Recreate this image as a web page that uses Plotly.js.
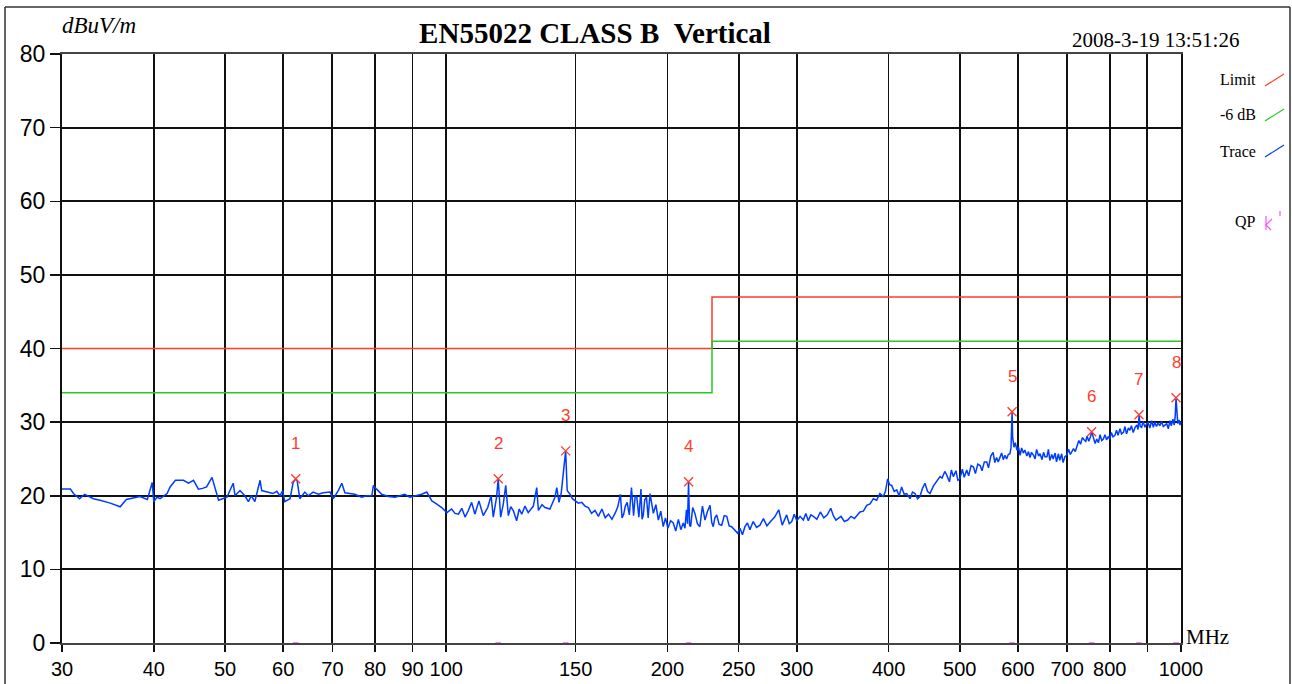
<!DOCTYPE html>
<html>
<head>
<meta charset="utf-8">
<script src="https://cdn.plot.ly/plotly-3.0.1.min.js"></script>
<style>
html,body{margin:0;padding:0;background:#fff;}
#chart{width:1292px;height:684px;}
</style>
</head>
<body>
<div id="chart"></div>
<script>
// ---- data ----
const traceFreq = [
30, 30.8, 31.1, 31.7, 32.2, 33.1, 33.8, 34.9, 36.0, 36.7, 37.5, 38.3, 39.2, 39.6, 39.8, 40.0, 40.4, 40.8, 41.7, 42.1, 42.8, 43.9, 44.6, 45.3, 46.0, 46.6, 47.2, 48.0, 48.5, 49.0, 49.6, 50.3, 51.3, 51.6, 52.4, 53.2, 53.8, 54.3, 54.9, 55.8, 56.1, 57.0, 58.1, 58.8, 59.4, 59.9, 60.3, 61.3, 61.9, 62.4, 62.7, 63.2, 64.2, 64.9, 65.9, 67.0, 68.0, 69.5, 70.2, 71.3, 72.1, 72.8, 74.0,
75.1, 76.7, 78.0, 79.2, 79.6, 80.4, 81.7, 83.4, 85.2, 86.5, 87.8, 89.2, 90.7, 92.6, 94.1, 95.6, 97.0, 98.6, 100.2, 101.7, 102.8, 103.9, 105.0, 106.1, 107.2, 108.3, 109.4, 110.8, 112.3, 113.9, 115.1, 115.9, 117.1, 117.7, 118.6, 119.6, 120.5, 121.5, 122.4, 123.4, 124.7, 125.7, 126.7, 128.0, 129.3, 131.4, 132.8, 133.5, 135.0, 136.3, 138.4, 140.6, 141.4, 142.4, 143.4, 144.3, 145.4, 146.1, 147.4, 148.5, 149.7, 151.3, 152.9, 154.5, 156.1, 157.7, 159.4, 161.1, 162.9, 164.6, 166.3, 168.1, 169.9, 171.2, 172.6, 173.5, 174.4, 175.3, 176.3, 177.5, 178.7, 179.3, 179.9, 180.8, 181.7, 182.9, 184.1, 184.7, 185.4, 186.3, 187.3, 188.3, 189.4,
191.4, 192.9, 194.4, 195.9, 197.4, 198.8, 200.3, 202.0, 203.7, 205.3, 207.0, 208.6, 210.2, 211.3, 212.3, 213.0, 213.7, 214.4, 215.1, 216.5, 218.0, 219.7, 221.4, 223.2, 225.0, 226.8, 228.6, 229.8, 230.9, 232.1, 233.4, 235.2, 237.1, 239.0, 240.9, 242.7, 244.6, 247.0, 249.3, 251.1, 253.0, 255.0, 257.0, 259.0, 261.7, 264.5, 267.3, 270.2, 273.2, 276.3, 279.9, 283.5, 286.6, 290.6, 293.0, 295.3, 297.6, 300.0, 303.1, 306.2, 308.6, 311.0, 313.5, 316.0, 319.5, 323.0, 326.5, 330.1, 333.7, 336.4, 339.1, 344.6, 348.2, 351.9, 355.6, 359.4, 362.5, 365.7, 369.6, 373.5, 377.4, 381.3, 385.3, 389.3, 393.4, 396.1, 398.8, 401.3, 403.9, 407.1, 410.3, 413.5, 416.7, 420.0, 423.3, 427.8, 431.1, 434.5, 437.9, 441.3, 444.8, 448.3, 451.8, 455.4, 460.2, 465.1, 470.0,
473, 477, 480, 484, 487, 490, 494, 497, 500, 504, 507, 511, 514, 518, 522, 525, 529, 533, 536, 540, 544, 547, 551, 555, 558, 561, 564, 567, 570, 573, 576, 579, 582, 585, 587, 589, 590, 592.5, 595, 598, 601, 604, 607, 610, 613, 617, 620, 623, 626, 630, 633, 636, 640, 643, 647, 650, 653, 657, 660, 663, 667, 670, 674, 677, 681, 684, 688, 691, 695, 699, 703, 707, 710, 714, 718, 722, 726, 730, 734, 738, 742, 745, 749, 753, 756, 760, 764, 768, 772, 776, 780, 784, 788, 792, 796, 800, 804, 808, 813, 817, 821, 826, 830, 835, 839, 843, 848, 852, 856, 861, 866, 871, 874, 877, 880, 884, 888, 893, 898, 902, 907, 912, 917, 921, 926, 931, 936, 941, 946, 951, 956, 961, 966, 970, 975, 979, 982, 984.5, 987, 990, 994, 997, 1000
];
const traceLevel = [
20.9, 20.9, 20.3, 19.6, 20.2, 19.6, 19.4, 19.0, 18.5, 19.5, 19.7, 19.9, 19.5, 21.2, 21.8, 19.2, 19.8, 19.6, 20.3, 21.2, 22.1, 22.1, 21.7, 22.1, 20.9, 21.0, 21.2, 22.5, 20.8, 19.4, 19.6, 19.8, 21.7, 20.0, 20.7, 20.0, 19.2, 20.0, 19.2, 22.1, 20.7, 20.5, 20.3, 20.6, 20.0, 20.7, 19.2, 19.6, 21.8, 22.3, 22.0, 19.6, 20.5, 20.0, 20.5, 20.2, 20.4, 20.5, 19.6, 20.7, 21.7, 20.4, 20.3,
20.2, 19.8, 20.0, 20.0, 21.4, 20.9, 20.2, 19.9, 19.8, 20.0, 20.2, 19.8, 20.0, 20.2, 20.5, 19.3, 18.9, 18.4, 17.7, 18.2, 17.6, 17.5, 18.3, 17.1, 18.0, 19.1, 17.5, 19.3, 17.3, 18.4, 20.0, 17.1, 19.8, 22.3, 17.1, 18.9, 21.4, 17.3, 18.5, 18.0, 16.6, 18.2, 17.5, 18.6, 17.7, 18.6, 21.1, 18.0, 18.8, 18.4, 18.2, 19.8, 21.1, 19.1, 20.4, 22.9, 26.1, 20.7, 20.2, 19.6, 19.3, 19.0, 19.1, 18.6, 18.4, 17.6, 18.0, 17.2, 18.2, 17.0, 17.5, 16.8, 17.7, 18.5, 20.2, 17.0, 17.5, 18.6, 19.1, 17.4, 21.1, 18.2, 17.3, 20.0, 19.8, 17.1, 20.9, 16.8, 17.3, 19.5, 19.8, 17.0, 20.3,
17.6, 18.8, 16.7, 17.9, 15.8, 17.0, 15.6, 16.6, 16.3, 15.2, 16.8, 15.4, 16.3, 15.6, 18.1, 16.2, 21.9, 16.0, 15.8, 18.4, 17.6, 16.2, 15.8, 18.6, 16.7, 17.9, 18.7, 16.4, 15.8, 17.0, 17.4, 16.1, 16.0, 17.3, 17.2, 15.9, 15.8, 15.3, 14.9, 15.6, 14.7, 15.8, 16.3, 15.4, 16.5, 15.7, 16.0, 16.9, 15.9, 16.5, 17.1, 18.1, 16.0, 17.4, 16.2, 16.5, 17.5, 16.6, 17.2, 16.7, 17.6, 16.6, 17.4, 17.2, 16.8, 17.8, 17.0, 17.4, 18.3, 17.3, 16.7, 17.2, 16.5, 16.7, 17.2, 16.9, 17.4, 17.8, 17.9, 18.7, 18.9, 19.6, 19.4, 20.3, 19.9, 20.6, 22.3, 21.5, 21.4, 20.6, 20.8, 20.0, 21.2, 20.2, 20.3, 19.6, 20.5, 20.3, 19.6, 19.9, 21.0, 21.7, 20.6, 20.3, 21.3, 21.9, 22.6,
22.4, 23.3, 22.8, 21.9, 23.5, 22.6, 23.4, 22.1, 22.3, 23.6, 22.5, 23.5, 22.7, 24.1, 23.9, 23.0, 24.3, 24.1, 23.4, 24.6, 24.6, 23.8, 25.4, 25.9, 24.5, 25.2, 24.6, 25.3, 25.8, 24.9, 25.5, 25.0, 25.6, 25.7, 26.5, 31.4, 28.0, 26.6, 27.2, 26.2, 26.6, 25.5, 26.5, 25.8, 26.2, 25.4, 26.0, 25.2, 25.9, 25.5, 25.0, 26.3, 25.4, 25.7, 24.9, 25.9, 25.3, 25.3, 26.3, 24.8, 25.6, 25.0, 25.8, 24.6, 25.7, 24.8, 25.7, 24.5, 25.3, 25.5, 26.3, 25.6, 26.0, 26.4, 26.0, 26.9, 27.5, 27.0, 27.9, 27.6, 27.4, 28.1, 27.4, 28.0, 28.7, 27.9, 27.1, 27.7, 27.2, 28.3, 27.5, 27.7, 28.3, 27.6, 28.0, 27.7, 28.6, 28.0, 28.2, 28.9, 28.2, 29.1, 28.4, 28.6, 29.4, 28.4, 29.2, 28.9, 29.5, 28.6, 29.3, 29.6, 29.0, 30.9, 29.4, 29.3, 30.1, 29.3, 29.8, 29.9, 29.2, 30.2, 29.3, 30.0, 29.4, 29.9, 29.5, 30.1, 29.4, 29.6, 29.8, 29.1, 30.2, 29.5, 30.4, 29.6, 30.8, 33.3, 31.2, 29.8, 30.3, 29.6, 30.1
];
const limitFreq = [30, 230, 230, 1000];
const limitLevel = [40, 40, 47, 47];
const warnLevel = [34, 34, 41, 41];
const peakFreq = [62.4, 117.7, 145.4, 213.7, 589, 755.8, 876.6, 984.5];
const peakLevel = [22.3, 22.3, 26.1, 21.9, 31.4, 28.7, 31.0, 33.3];
const peakLabel = ['1', '2', '3', '4', '5', '6', '7', '8'];
const qpLevel = [0, 0, 0, 0, 0, 0, 0, 0];
const xTickVals = [30, 40, 50, 60, 70, 80, 90, 100, 150, 200, 250, 300, 400, 500, 600, 700, 800, 900, 1000];
const xTickText = ['30', '40', '50', '60', '70', '80', '90', '100', '150', '200', '250', '300', '400', '500', '600', '700', '800', '', '1000'];
const yTickVals = [0, 10, 20, 30, 40, 50, 60, 70, 80];
const titleText = 'EN55022 CLASS B\u00a0\u00a0Vertical';
const dateText = '2008-3-19 13:51:26';
const unitY = 'dBuV/m';
const unitX = 'MHz';
const legendNames = ['Limit', '-6 dB', 'Trace', 'QP'];

// ---- styles ----
const RED = 'rgb(255,60,40)';
const GREEN = 'rgb(40,200,40)';
const BLUE = 'rgb(0,60,255)';
const MAGENTA = 'rgb(255,80,255)';
const serif = '"Liberation Serif", "Times New Roman", serif';
const tickFamily = '"Liberation Sans", Arial, sans-serif';

const data = [
  {x: limitFreq, y: limitLevel, type: 'scatter', mode: 'lines', line: {color: RED, width: 1.5}, hoverinfo: 'skip'},
  {x: limitFreq, y: warnLevel, type: 'scatter', mode: 'lines', line: {color: GREEN, width: 1.5}, hoverinfo: 'skip'},
  {x: traceFreq, y: traceLevel, type: 'scatter', mode: 'lines', line: {color: BLUE, width: 1.5}},
  {x: peakFreq, y: peakLevel, type: 'scatter', mode: 'markers',
   marker: {symbol: 'x-thin-open', size: 9, color: RED, line: {color: RED, width: 1.3}}},
  {x: peakFreq, y: qpLevel, type: 'scatter', mode: 'markers', cliponaxis: false,
   marker: {symbol: 'line-ew-open', size: 4, color: MAGENTA, line: {color: MAGENTA, width: 1.5}}}
];

// paper coordinate helpers for decorative items
const L = 62, R = 1181, T = 54, B = 643;
const px = v => (v - L) / (R - L);
const py = v => (B - v) / (B - T);

const annotations = peakFreq.map((f, i) => ({
  x: Math.log10(f), y: peakLevel[i], xref: 'x', yref: 'y', text: peakLabel[i],
  showarrow: false, yshift: 35, font: {family: '"Liberation Sans", Arial, sans-serif', size: 17, color: RED}
}));
annotations.push(
  {x: px(1241), y: py(40), xref: 'paper', yref: 'paper', text: dateText, showarrow: false,
   xanchor: 'right', yanchor: 'middle', font: {family: serif, size: 21, color: '#000'}},
  {x: px(60), y: py(25), xref: 'paper', yref: 'paper', text: '<i>' + unitY + '</i>', showarrow: false,
   xanchor: 'left', yanchor: 'middle', font: {family: serif, size: 23, color: '#000'}},
  {x: px(1184), y: py(637), xref: 'paper', yref: 'paper', text: unitX, showarrow: false,
   xanchor: 'left', yanchor: 'middle', font: {family: serif, size: 21, color: '#000'}}
);
const legendY = [80, 115, 151, 221];
legendNames.forEach((n, i) => annotations.push({
  x: px(1258), y: py(legendY[i]), xref: 'paper', yref: 'paper', text: n, showarrow: false,
  xanchor: 'right', yanchor: 'middle', font: {family: serif, size: 16, color: '#000'}
}));

const shapes = [];
const frame = {type: 'line', xref: 'paper', yref: 'paper', line: {color: '#333', width: 1.5}};
shapes.push(Object.assign({}, frame, {x0: px(5), x1: px(5), y0: py(7), y1: py(690)}));
shapes.push(Object.assign({}, frame, {x0: px(5), x1: px(1290), y0: py(7), y1: py(7)}));
shapes.push(Object.assign({}, frame, {x0: px(1290), x1: px(1290), y0: py(7), y1: py(690)}));
const legColors = [RED, GREEN, BLUE];
legColors.forEach((c, i) => shapes.push({type: 'line', xref: 'paper', yref: 'paper',
  x0: px(1265), x1: px(1284), y0: py(legendY[i] + 6), y1: py(legendY[i] - 6), line: {color: c, width: 1.2}}));
[[1266, 216, 1266, 230], [1266, 225, 1272, 219], [1266, 225, 1271, 230], [1280, 211, 1280, 216]].forEach(s =>
  shapes.push({type: 'line', xref: 'paper', yref: 'paper', x0: px(s[0]), x1: px(s[2]), y0: py(s[1]), y1: py(s[3]),
    line: {color: MAGENTA, width: 1.2}}));

const layout = {
  width: 1292, height: 684,
  margin: {l: L, r: 1292 - R, t: T, b: 684 - B, pad: 0},
  paper_bgcolor: '#fff', plot_bgcolor: '#fff',
  showlegend: false,
  title: {text: '<b>' + titleText + '</b>', font: {family: serif, size: 29, color: '#000'},
          x: px(595), xref: 'paper', xanchor: 'center', y: 1 - 33 / 684, yref: 'container', yanchor: 'middle'},
  xaxis: {type: 'log', range: [Math.log10(30), Math.log10(1000)], tickvals: xTickVals, ticktext: xTickText,
          tickangle: 0, showgrid: true, gridcolor: '#111', gridwidth: 1.8, ticks: 'outside', ticklen: 7, tickwidth: 1.5, tickcolor: '#111',
          showline: true, linecolor: '#444', linewidth: 2, mirror: true, zeroline: false,
          tickfont: {family: tickFamily, size: 20, color: '#000'}, fixedrange: true},
  yaxis: {range: [0, 80], tickvals: yTickVals, showgrid: true, gridcolor: '#111', gridwidth: 1.8,
          ticks: 'outside', ticklen: 10, tickwidth: 1.5, tickcolor: '#111',
          showline: true, linecolor: '#111', linewidth: 2, mirror: true, zeroline: false,
          tickfont: {family: tickFamily, size: 23, color: '#000'}, fixedrange: true},
  annotations: annotations,
  shapes: shapes
};

Plotly.newPlot('chart', data, layout, {displayModeBar: false, staticPlot: true});
</script>
</body>
</html>
